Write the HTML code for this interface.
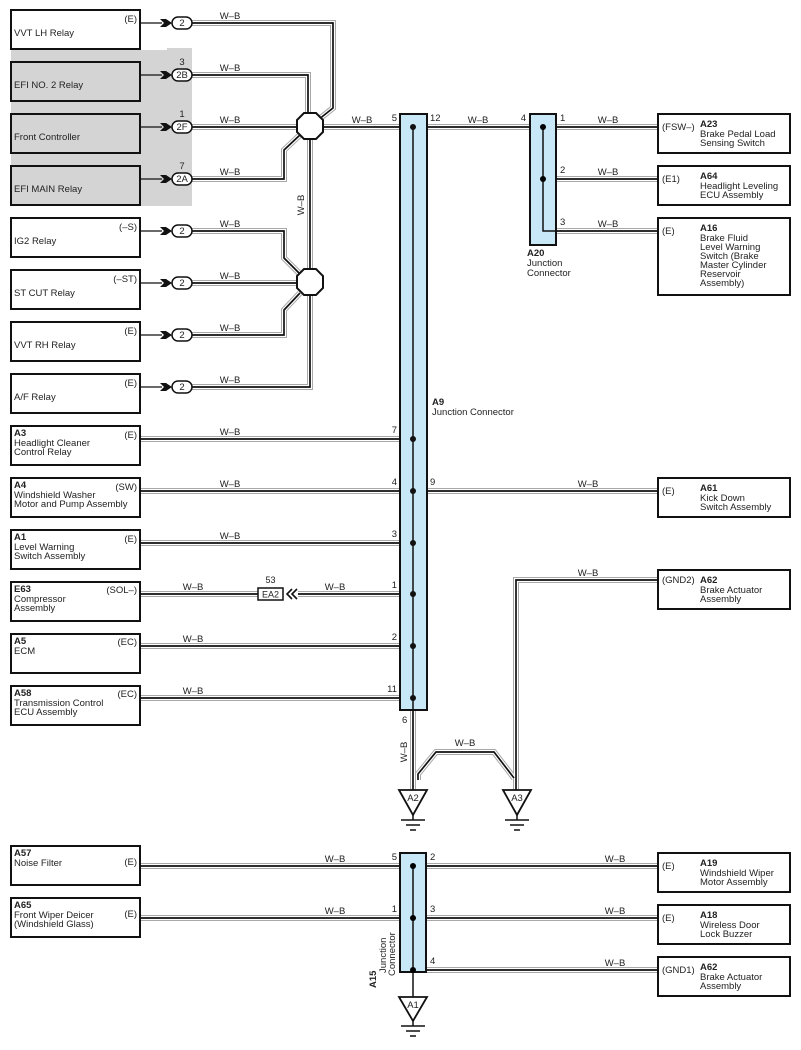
<!DOCTYPE html>
<html><head><meta charset="utf-8"><style>
body{margin:0;background:#fff}
svg{display:block;font-family:"Liberation Sans",Arial,sans-serif}
.o{fill:none;stroke:#a8a8a8;stroke-width:6;stroke-linejoin:miter}
.i{fill:none;stroke:#fff;stroke-width:4;stroke-linejoin:miter}
.c{fill:none;stroke:#111;stroke-width:1.7;stroke-linejoin:miter}
.box{fill:#fff;stroke:#111;stroke-width:2}
.gbox{fill:#d4d4d4;stroke:#111;stroke-width:2}
text{font-size:9.5px;fill:#222}
.b{font-weight:bold}
.l{font-size:9px}
.jc{fill:#c8e8f8;stroke:#111;stroke-width:2}
</style></head><body>
<svg width="801" height="1050" viewBox="0 0 801 1050">
<defs>
<path id="w1" d="M192,23 H333 V108 L318,120"/>
<path id="w2" d="M192,75 H308 V113"/>
<path id="w3" d="M192,127 H400"/>
<path id="w4" d="M192,179 H284 V150 L301,134"/>
<path id="w5" d="M310,140 V270"/>
<path id="w6" d="M192,231 H284 V258 L300,274"/>
<path id="w7" d="M192,283 H297"/>
<path id="w8" d="M192,335 H284 V310 L300,293"/>
<path id="w9" d="M192,387 H310 V296"/>
<path id="w10" d="M140,439 H400"/>
<path id="w11" d="M140,491 H658"/>
<path id="w12" d="M140,543 H400"/>
<path id="w13a" d="M140,594 H258"/>
<path id="w13b" d="M298,594 H400"/>
<path id="w14" d="M140,646 H400"/>
<path id="w15" d="M140,698 H400"/>
<path id="w16" d="M427,127 H530"/>
<path id="w17" d="M556,127 H658"/>
<path id="w18" d="M556,179 H658"/>
<path id="w19" d="M556,231 H658"/>
<path id="w20" d="M658,580 H516 V790"/>
<path id="w21" d="M413,710 V790"/>
<path id="w22" d="M418,780 V774 L436,752 H494 L514,778"/>
<path id="w23" d="M140,866 H400"/>
<path id="w24" d="M140,918 H400"/>
<path id="w25" d="M426,866 H658"/>
<path id="w26" d="M426,918 H658"/>
<path id="w27" d="M426,970 H658"/>
</defs>
<!-- gray background -->
<path d="M11,50 H167 V48 H192 V206 H11 Z" fill="#d4d4d4"/>
<!-- wires outer -->
<g class="o"><use href="#w1"/><use href="#w2"/><use href="#w3"/><use href="#w4"/><use href="#w5"/><use href="#w6"/><use href="#w7"/><use href="#w8"/><use href="#w9"/><use href="#w10"/><use href="#w11"/><use href="#w12"/><use href="#w13a"/><use href="#w13b"/><use href="#w14"/><use href="#w15"/><use href="#w16"/><use href="#w17"/><use href="#w18"/><use href="#w19"/><use href="#w20"/><use href="#w21"/><use href="#w22"/><use href="#w23"/><use href="#w24"/><use href="#w25"/><use href="#w26"/><use href="#w27"/></g>
<g class="i"><use href="#w1"/><use href="#w2"/><use href="#w3"/><use href="#w4"/><use href="#w5"/><use href="#w6"/><use href="#w7"/><use href="#w8"/><use href="#w9"/><use href="#w10"/><use href="#w11"/><use href="#w12"/><use href="#w13a"/><use href="#w13b"/><use href="#w14"/><use href="#w15"/><use href="#w16"/><use href="#w17"/><use href="#w18"/><use href="#w19"/><use href="#w20"/><use href="#w21"/><use href="#w22"/><use href="#w23"/><use href="#w24"/><use href="#w25"/><use href="#w26"/><use href="#w27"/></g>
<g class="c"><use href="#w1"/><use href="#w2"/><use href="#w3"/><use href="#w4"/><use href="#w5"/><use href="#w6"/><use href="#w7"/><use href="#w8"/><use href="#w9"/><use href="#w10"/><use href="#w11"/><use href="#w12"/><use href="#w13a"/><use href="#w13b"/><use href="#w14"/><use href="#w15"/><use href="#w16"/><use href="#w17"/><use href="#w18"/><use href="#w19"/><use href="#w20"/><use href="#w21"/><use href="#w22"/><use href="#w23"/><use href="#w24"/><use href="#w25"/><use href="#w26"/><use href="#w27"/></g>

<!-- thin lines from boxes to connectors -->
<g stroke="#111" stroke-width="1.2">
<line x1="140" y1="23" x2="162" y2="23"/><line x1="140" y1="75" x2="162" y2="75"/><line x1="140" y1="127" x2="162" y2="127"/><line x1="140" y1="179" x2="162" y2="179"/>
<line x1="140" y1="231" x2="162" y2="231"/><line x1="140" y1="283" x2="162" y2="283"/><line x1="140" y1="335" x2="162" y2="335"/><line x1="140" y1="387" x2="162" y2="387"/>
</g>
<!-- arrows + pills -->
<g fill="#111">
<path d="M160,19 H166 L172,23 L166,27 H160 L164,23Z"/><path d="M160,71 H166 L172,75 L166,79 H160 L164,75Z"/><path d="M160,123 H166 L172,127 L166,131 H160 L164,127Z"/><path d="M160,175 H166 L172,179 L166,183 H160 L164,179Z"/>
<path d="M160,227 H166 L172,231 L166,235 H160 L164,231Z"/><path d="M160,279 H166 L172,283 L166,287 H160 L164,283Z"/><path d="M160,331 H166 L172,335 L166,339 H160 L164,335Z"/><path d="M160,383 H166 L172,387 L166,391 H160 L164,387Z"/>
</g>
<g fill="#fff" stroke="#111" stroke-width="1.5">
<rect x="172" y="17" width="20" height="12" rx="6"/><rect x="172" y="69" width="20" height="12" rx="6"/><rect x="172" y="121" width="20" height="12" rx="6"/><rect x="172" y="173" width="20" height="12" rx="6"/>
<rect x="172" y="225" width="20" height="12" rx="6"/><rect x="172" y="277" width="20" height="12" rx="6"/><rect x="172" y="329" width="20" height="12" rx="6"/><rect x="172" y="381" width="20" height="12" rx="6"/>
</g>
<g text-anchor="middle" class="l">
<text x="182" y="26">2</text><text x="182" y="78">2B</text><text x="182" y="130">2F</text><text x="182" y="182">2A</text>
<text x="182" y="234">2</text><text x="182" y="286">2</text><text x="182" y="338">2</text><text x="182" y="390">2</text>
<text x="182" y="65">3</text><text x="182" y="117">1</text><text x="182" y="169">7</text>
</g>
<!-- splices -->
<g fill="#fff" stroke="#111" stroke-width="2">
<polygon points="304,113 316,113 323,120 323,132 316,139 304,139 297,132 297,120"/>
<polygon points="304,269 316,269 323,276 323,288 316,295 304,295 297,288 297,276"/>
</g>
<!-- W-B labels -->
<g class="l" text-anchor="middle">
<text x="230" y="19">W–B</text><text x="230" y="71">W–B</text><text x="230" y="123">W–B</text><text x="230" y="175">W–B</text>
<text x="230" y="227">W–B</text><text x="230" y="279">W–B</text><text x="230" y="331">W–B</text><text x="230" y="383">W–B</text>
<text x="362" y="123">W–B</text><text x="478" y="123">W–B</text><text x="608" y="123">W–B</text><text x="608" y="175">W–B</text><text x="608" y="227">W–B</text>
<text x="230" y="435">W–B</text><text x="230" y="487">W–B</text><text x="588" y="487">W–B</text><text x="230" y="539">W–B</text>
<text x="193" y="590">W–B</text><text x="335" y="590">W–B</text><text x="193" y="642">W–B</text><text x="193" y="694">W–B</text>
<text x="588" y="576">W–B</text><text x="465" y="746">W–B</text>
<text x="335" y="862">W–B</text><text x="335" y="914">W–B</text><text x="615" y="862">W–B</text><text x="615" y="914">W–B</text><text x="615" y="966">W–B</text>
<text transform="translate(304,205) rotate(-90)">W–B</text>
<text transform="translate(407,752) rotate(-90)">W–B</text>
</g>
<!-- EA2 -->
<rect x="258" y="588" width="25" height="12" fill="#fff" stroke="#111" stroke-width="1.5"/>
<text x="270.5" y="597.5" text-anchor="middle" class="l">EA2</text>
<text x="270.5" y="583" text-anchor="middle" class="l">53</text>
<path d="M292,589 L287,594 L292,599 M297,589 L292,594 L297,599" fill="none" stroke="#111" stroke-width="1.6"/>
<!-- junction A9 -->
<rect class="jc" x="400" y="114" width="27" height="596"/>
<line x1="413" y1="127" x2="413" y2="710" stroke="#111" stroke-width="1.5"/>
<g fill="#111"><circle cx="413" cy="127" r="3"/><circle cx="413" cy="439" r="3"/><circle cx="413" cy="491" r="3"/><circle cx="413" cy="543" r="3"/><circle cx="413" cy="594" r="3"/><circle cx="413" cy="646" r="3"/><circle cx="413" cy="698" r="3"/></g>
<g class="l" text-anchor="end"><text x="397" y="121">5</text><text x="397" y="433">7</text><text x="397" y="485">4</text><text x="397" y="537">3</text><text x="397" y="588">1</text><text x="397" y="640">2</text><text x="397" y="692">11</text><text x="526" y="121">4</text><text x="397" y="860">5</text><text x="397" y="912">1</text></g>
<g class="l"><text x="430" y="121">12</text><text x="430" y="485">9</text><text x="402" y="723">6</text><text x="560" y="121">1</text><text x="560" y="173">2</text><text x="560" y="225">3</text><text x="430" y="860">2</text><text x="430" y="912">3</text><text x="430" y="964">4</text></g>
<text x="432" y="405" class="b">A9</text><text x="432" y="415">Junction Connector</text>
<!-- A20 -->
<rect class="jc" x="530" y="114" width="26" height="131"/>
<path d="M543,127 V231 H556" fill="none" stroke="#111" stroke-width="1.5"/>
<circle cx="543" cy="127" r="3"/><circle cx="543" cy="179" r="3"/>
<text x="527" y="256" class="b">A20</text><text x="527" y="266">Junction</text><text x="527" y="276">Connector</text>
<!-- A15 -->
<rect class="jc" x="400" y="853" width="26" height="119"/>
<line x1="413" y1="866" x2="413" y2="997" stroke="#111" stroke-width="1.5"/>
<circle cx="413" cy="866" r="3"/><circle cx="413" cy="918" r="3"/><circle cx="413" cy="970" r="3"/>
<text transform="translate(376,988) rotate(-90)" class="b">A15</text>
<text transform="translate(386,973) rotate(-90)">Junction</text>
<text transform="translate(395,976) rotate(-90)">Connector</text>
<!-- grounds -->
<g fill="#fff" stroke="#111" stroke-width="1.8">
<polygon points="399,790 427,790 413,815"/><polygon points="503,790 531,790 517,815"/><polygon points="399,997 427,997 413,1021"/>
</g>
<g stroke="#111" stroke-width="1.5">
<line x1="413" y1="815" x2="413" y2="820"/><line x1="401" y1="820" x2="425" y2="820"/><line x1="406" y1="825" x2="420" y2="825"/><line x1="410" y1="830" x2="416" y2="830"/>
<line x1="517" y1="815" x2="517" y2="820"/><line x1="505" y1="820" x2="529" y2="820"/><line x1="510" y1="825" x2="524" y2="825"/><line x1="514" y1="830" x2="520" y2="830"/>
<line x1="413" y1="1021" x2="413" y2="1026"/><line x1="401" y1="1026" x2="425" y2="1026"/><line x1="406" y1="1031" x2="420" y2="1031"/><line x1="410" y1="1036" x2="416" y2="1036"/>
</g>
<g class="l" text-anchor="middle"><text x="413" y="801">A2</text><text x="517" y="801">A3</text><text x="413" y="1008">A1</text></g>
<!-- left boxes -->
<rect class="box" x="11" y="10" width="129" height="39"/>
<rect class="gbox" x="11" y="62" width="129" height="39"/>
<rect class="gbox" x="11" y="114" width="129" height="39"/>
<rect class="gbox" x="11" y="166" width="129" height="39"/>
<rect class="box" x="11" y="218" width="129" height="39"/>
<rect class="box" x="11" y="270" width="129" height="39"/>
<rect class="box" x="11" y="322" width="129" height="39"/>
<rect class="box" x="11" y="374" width="129" height="39"/>
<rect class="box" x="11" y="426" width="129" height="39"/>
<rect class="box" x="11" y="478" width="129" height="39"/>
<rect class="box" x="11" y="530" width="129" height="39"/>
<rect class="box" x="11" y="582" width="129" height="39"/>
<rect class="box" x="11" y="634" width="129" height="39"/>
<rect class="box" x="11" y="686" width="129" height="39"/>
<rect class="box" x="11" y="846" width="129" height="39"/>
<rect class="box" x="11" y="898" width="129" height="39"/>
<text x="14" y="36">VVT LH Relay</text><text x="14" y="88">EFI NO. 2 Relay</text><text x="14" y="140">Front Controller</text><text x="14" y="192">EFI MAIN Relay</text>
<text x="14" y="244">IG2 Relay</text><text x="14" y="296">ST CUT Relay</text><text x="14" y="348">VVT RH Relay</text><text x="14" y="400">A/F Relay</text>
<text x="14" y="436" class="b">A3</text><text x="14" y="446">Headlight Cleaner</text><text x="14" y="455">Control Relay</text>
<text x="14" y="488" class="b">A4</text><text x="14" y="498">Windshield Washer</text><text x="14" y="507">Motor and Pump Assembly</text>
<text x="14" y="540" class="b">A1</text><text x="14" y="550">Level Warning</text><text x="14" y="559">Switch Assembly</text>
<text x="14" y="592" class="b">E63</text><text x="14" y="602">Compressor</text><text x="14" y="611">Assembly</text>
<text x="14" y="644" class="b">A5</text><text x="14" y="654">ECM</text>
<text x="14" y="696" class="b">A58</text><text x="14" y="706">Transmission Control</text><text x="14" y="715">ECU Assembly</text>
<text x="14" y="856" class="b">A57</text><text x="14" y="866">Noise Filter</text>
<text x="14" y="908" class="b">A65</text><text x="14" y="918">Front Wiper Deicer</text><text x="14" y="927">(Windshield Glass)</text>
<g text-anchor="end"><text x="137" y="22">(E)</text><text x="137" y="230">(–S)</text><text x="137" y="282">(–ST)</text><text x="137" y="334">(E)</text><text x="137" y="386">(E)</text>
<text x="137" y="438">(E)</text><text x="137" y="490">(SW)</text><text x="137" y="542">(E)</text><text x="137" y="593">(SOL–)</text><text x="137" y="645">(EC)</text><text x="137" y="697">(EC)</text><text x="137" y="865">(E)</text><text x="137" y="917">(E)</text></g>
<!-- right boxes -->
<rect class="box" x="658" y="114" width="132" height="39"/>
<rect class="box" x="658" y="166" width="132" height="39"/>
<rect class="box" x="658" y="218" width="132" height="77"/>
<rect class="box" x="658" y="478" width="132" height="39"/>
<rect class="box" x="658" y="570" width="132" height="39"/>
<rect class="box" x="658" y="853" width="132" height="39"/>
<rect class="box" x="658" y="905" width="132" height="39"/>
<rect class="box" x="658" y="957" width="132" height="39"/>
<g><text x="662" y="130">(FSW–)</text><text x="662" y="182">(E1)</text><text x="662" y="234">(E)</text><text x="662" y="494">(E)</text><text x="662" y="583">(GND2)</text><text x="662" y="869">(E)</text><text x="662" y="921">(E)</text><text x="662" y="973">(GND1)</text></g>
<text x="700" y="127" class="b">A23</text><text x="700" y="137">Brake Pedal Load</text><text x="700" y="146">Sensing Switch</text>
<text x="700" y="179" class="b">A64</text><text x="700" y="189">Headlight Leveling</text><text x="700" y="198">ECU Assembly</text>
<text x="700" y="231" class="b">A16</text><text x="700" y="241">Brake Fluid</text><text x="700" y="250">Level Warning</text><text x="700" y="259">Switch (Brake</text><text x="700" y="268">Master Cylinder</text><text x="700" y="277">Reservoir</text><text x="700" y="286">Assembly)</text>
<text x="700" y="491" class="b">A61</text><text x="700" y="501">Kick Down</text><text x="700" y="510">Switch Assembly</text>
<text x="700" y="583" class="b">A62</text><text x="700" y="593">Brake Actuator</text><text x="700" y="602">Assembly</text>
<text x="700" y="866" class="b">A19</text><text x="700" y="876">Windshield Wiper</text><text x="700" y="885">Motor Assembly</text>
<text x="700" y="918" class="b">A18</text><text x="700" y="928">Wireless Door</text><text x="700" y="937">Lock Buzzer</text>
<text x="700" y="970" class="b">A62</text><text x="700" y="980">Brake Actuator</text><text x="700" y="989">Assembly</text>
</svg>
</body></html>
